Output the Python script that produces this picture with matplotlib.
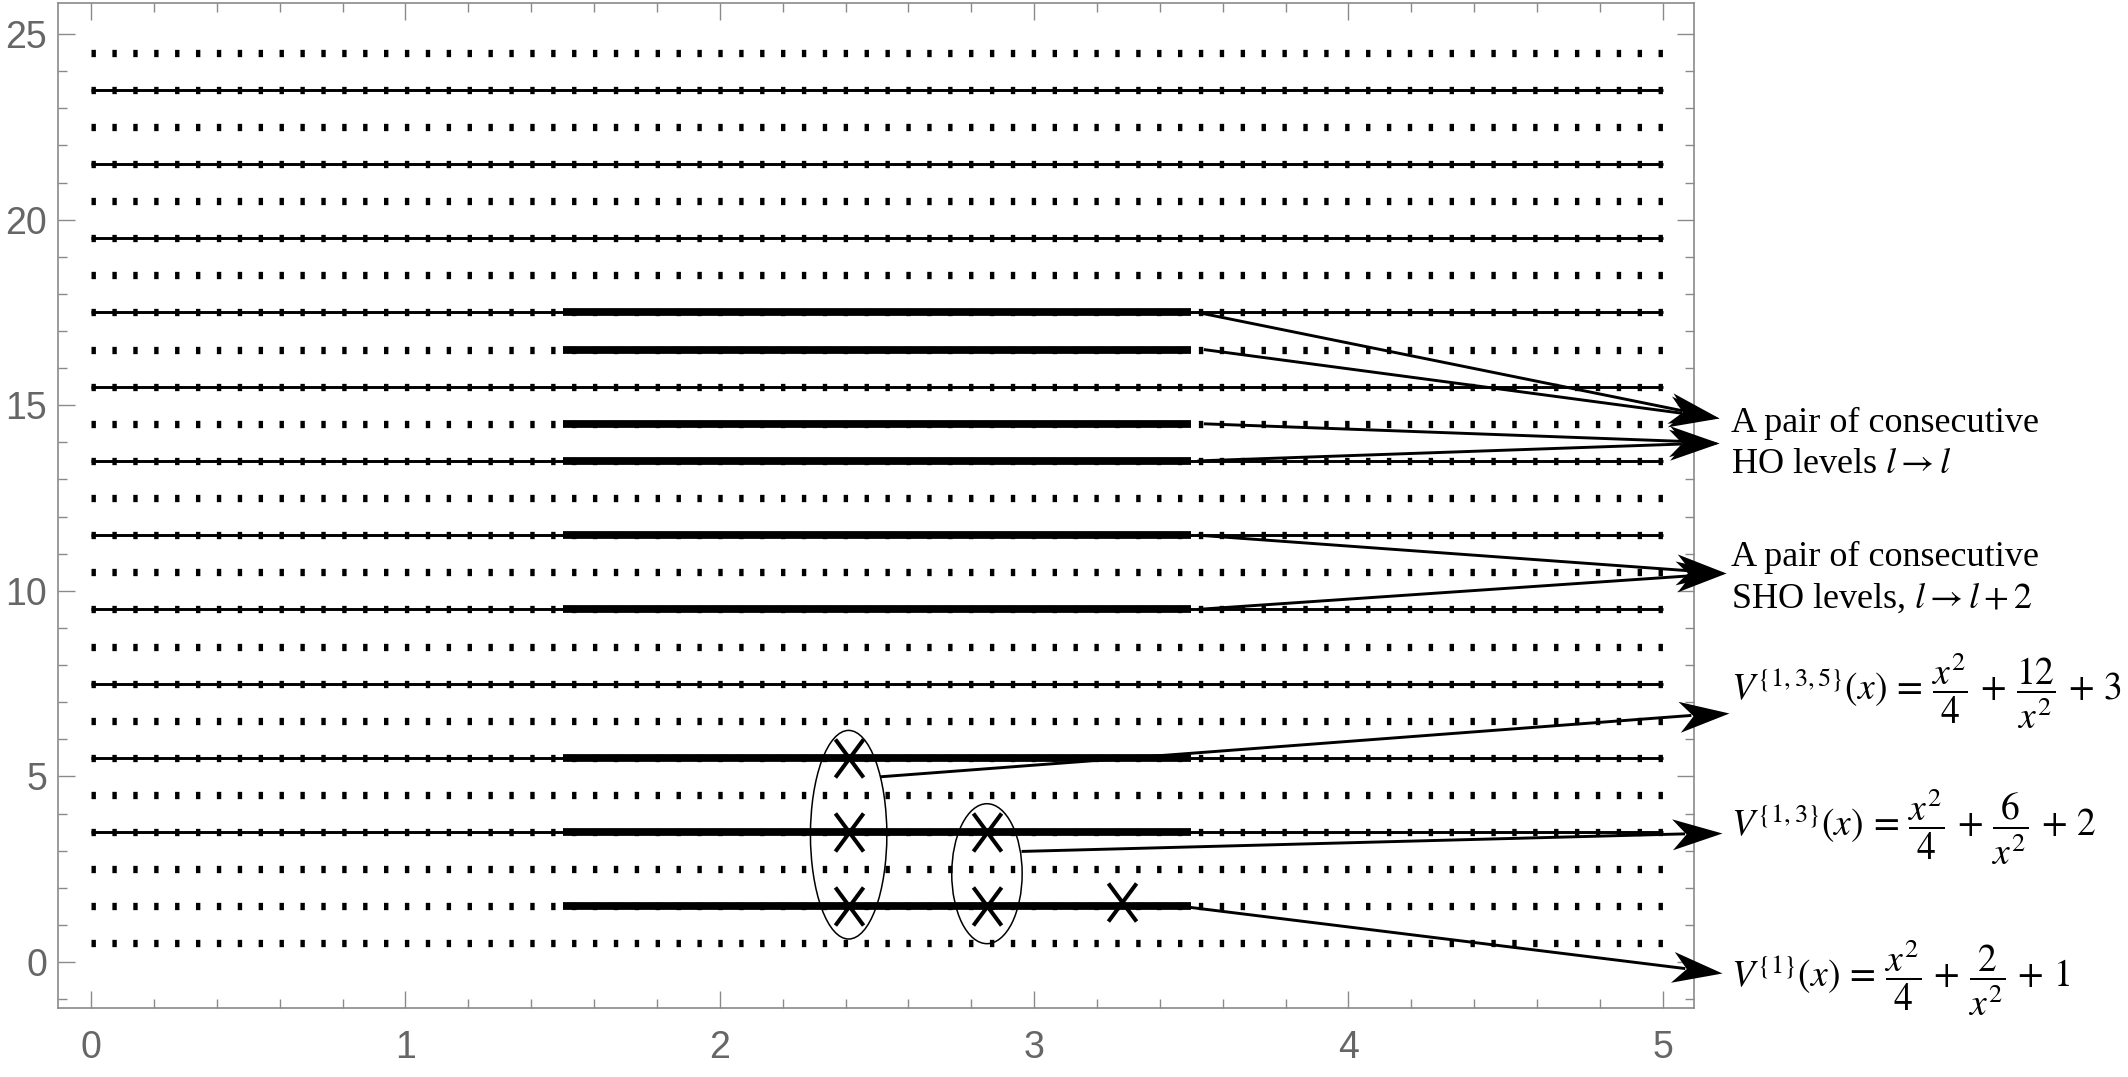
import numpy as np
import matplotlib
matplotlib.use("Agg")
import matplotlib.pyplot as plt
from matplotlib.patches import Ellipse
from matplotlib.path import Path
from matplotlib.markers import MarkerStyle
from matplotlib.transforms import Affine2D
from matplotlib.ticker import MultipleLocator

# energy levels (half-integers)
DOTTED_LEVELS = [0.5, 1.5, 2.5, 3.5, 4.5, 5.5, 6.5, 7.5, 8.5, 9.5, 10.5, 11.5, 12.5,
                 13.5, 14.5, 15.5, 16.5, 17.5, 18.5, 19.5, 20.5, 21.5, 22.5, 23.5, 24.5]
SOLID_LEVELS = [3.5, 5.5, 7.5, 9.5, 11.5, 13.5, 15.5, 17.5, 19.5, 21.5, 23.5]
BOLD_LEVELS = [1.5, 3.5, 5.5, 9.5, 11.5, 13.5, 14.5, 16.5, 17.5]
LEVEL_X = [0, 5]
BOLD_X = [1.5, 3.5]

# removed states
CROSS_X = [2.41, 2.41, 2.41, 2.85, 2.85, 3.28]
CROSS_Y = [5.5, 3.5, 1.5, 3.5, 1.5, 1.63]

# groups of removed states
ELLIPSE_X = [2.41, 2.85]
ELLIPSE_Y = [3.43, 2.38]
ELLIPSE_W = [0.243, 0.224]
ELLIPSE_H = [5.62, 3.77]

# arrows: start -> tip (data coords, tips lie outside the frame)
ARROW_X0 = [3.52, 3.54, 3.54, 3.52, 3.52, 3.52, 2.51, 2.96, 3.47]
ARROW_Y0 = [17.5, 16.5, 14.5, 13.5, 11.5, 9.5, 4.99, 2.98, 1.5]
ARROW_X1 = [5.18, 5.18, 5.18, 5.18, 5.20, 5.20, 5.21, 5.19, 5.19]
ARROW_Y1 = [14.65, 14.65, 13.99, 13.99, 10.47, 10.47, 6.72, 3.48, -0.30]

LABELS = [
    "A pair of consecutive\nHO levels $l \\rightarrow l$",
    "A pair of consecutive\nSHO levels, $l \\rightarrow l + 2$",
    r"$V^{\{1,3,5\}}(x) \,=\, \dfrac{x^2}{4} \,+\, \dfrac{12}{x^2} \,+\, 3$",
    r"$V^{\{1,3\}}(x) \,=\, \dfrac{x^2}{4} \,+\, \dfrac{6}{x^2} \,+\, 2$",
    r"$V^{\{1\}}(x) \,=\, \dfrac{x^2}{4} \,+\, \dfrac{2}{x^2} \,+\, 1$",
]
LABEL_Y = [0.588, 0.463, 0.359, 0.232, 0.092]
LABEL_SIZE = [13, 13, 13.5, 13.5, 13.5]

GRAY = "#8a8a8a"
DPI = 200
HEAD_PX = 50

CROSS = Path([(-0.37, -0.5), (0.37, 0.5), (-0.37, 0.5), (0.37, -0.5)],
             [Path.MOVETO, Path.LINETO, Path.MOVETO, Path.LINETO])
HEAD = Path([(0, 0), (-1, 0.31), (-0.72, 0), (-1, -0.31), (0, 0)], closed=True)


def draw_arrow(ax, x0, y0, x1, y1):
    """Straight arrow with a swept-back head, drawn past the axes frame."""
    p0, p1 = ax.transData.transform([(x0, y0), (x1, y1)])
    d = p1 - p0
    u = d / np.hypot(*d)
    angle = np.degrees(np.arctan2(d[1], d[0]))
    stop = ax.transData.inverted().transform(p1 - u * HEAD_PX * 0.75)
    ax.plot([x0, stop[0]], [y0, stop[1]], color="k", lw=1.05,
            solid_capstyle="butt", clip_on=False, zorder=5)
    head = MarkerStyle(HEAD, transform=Affine2D().rotate_deg(angle))
    ax.plot([x1], [y1], ls="none", marker=head, ms=2 * HEAD_PX * 72 / DPI,
            mfc="k", mec="k", mew=0, clip_on=False, zorder=6)


def main():
    plt.rcParams["mathtext.fontset"] = "stix"
    fig = plt.figure(figsize=(2128 / DPI, 1077 / DPI), dpi=DPI)
    ax = fig.add_axes([0.0273, 0.064, 0.7687, 0.933])
    ax.set_xlim(-0.105, 5.099)
    ax.set_ylim(-1.24, 25.83)

    # all levels: thick dotted
    for y in DOTTED_LEVELS:
        ax.plot(LEVEL_X, [y, y], color="k", lw=2.63,
                ls=(0, (0.6, 2.26)), dash_capstyle="butt")
    # odd levels: thin solid
    for y in SOLID_LEVELS:
        ax.plot(LEVEL_X, [y, y], color="k", lw=1.05, solid_capstyle="butt")
    # highlighted levels
    for y in BOLD_LEVELS:
        ax.plot(BOLD_X, [y, y], color="k", lw=2.8, solid_capstyle="butt")

    ax.plot(CROSS_X, CROSS_Y, ls="none", marker=CROSS, ms=13.7,
            mfc="none", mec="k", mew=1.45, zorder=4)

    for ex, ey, ew, eh in zip(ELLIPSE_X, ELLIPSE_Y, ELLIPSE_W, ELLIPSE_H):
        ax.add_patch(Ellipse((ex, ey), ew, eh, fill=False, ec="k", lw=0.55, zorder=4))

    for x0, y0, x1, y1 in zip(ARROW_X0, ARROW_Y0, ARROW_X1, ARROW_Y1):
        draw_arrow(ax, x0, y0, x1, y1)

    for text, y, size in zip(LABELS, LABEL_Y, LABEL_SIZE):
        fig.text(0.8135, y, text, ha="left", va="center", fontsize=size,
                 family="Liberation Serif", linespacing=1.3)

    # frame and ticks
    ax.xaxis.set_major_locator(MultipleLocator(1))
    ax.xaxis.set_minor_locator(MultipleLocator(0.2))
    ax.yaxis.set_major_locator(MultipleLocator(5))
    ax.yaxis.set_minor_locator(MultipleLocator(1))
    for spine in ax.spines.values():
        spine.set_color(GRAY)
        spine.set_linewidth(0.6)
    ax.tick_params(which="both", direction="in", top=True, right=True,
                   color=GRAY, width=0.5, labelcolor="#666666", labelsize=13.5)
    ax.tick_params(which="major", length=6.1)
    ax.tick_params(which="minor", length=3.2)
    ax.tick_params(axis="x", pad=8)
    ax.tick_params(axis="y", pad=4)
    for lab in ax.get_xticklabels() + ax.get_yticklabels():
        lab.set_family("Liberation Sans")

    fig.savefig("out.png", dpi=DPI)


if __name__ == "__main__":
    main()
